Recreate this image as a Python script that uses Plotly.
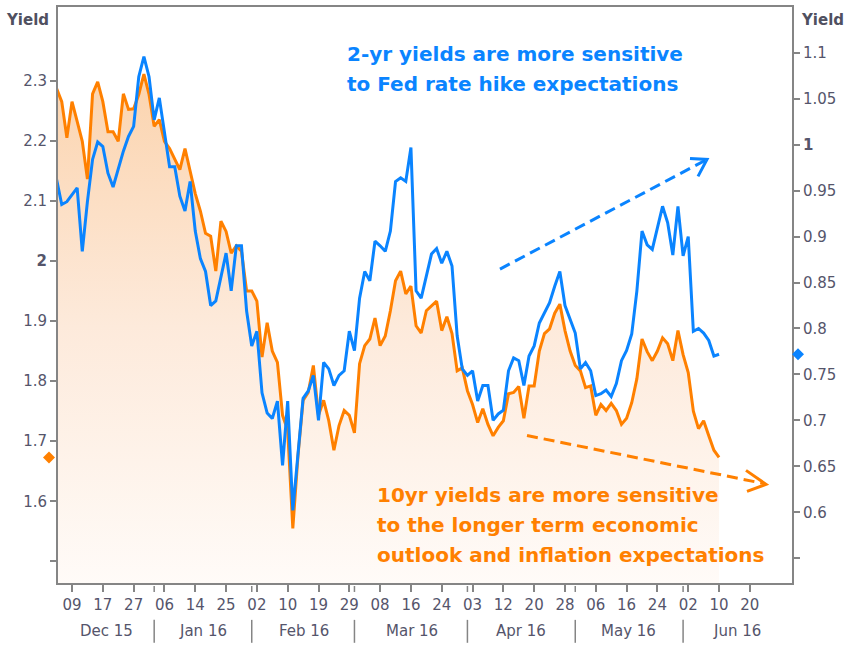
import plotly.graph_objects as go
import pandas as pd

# ---------------- data ----------------
holidays = ["2015-12-25", "2016-01-01", "2016-01-18", "2016-02-15", "2016-03-25", "2016-05-30"]
dates = [d for d in pd.bdate_range("2015-12-04", "2016-06-10") if d.strftime("%Y-%m-%d") not in holidays]

ten_yr_dec = [2.287, 2.265, 2.205, 2.265, 2.232, 2.199, 2.136, 2.278, 2.298, 2.265, 2.215, 2.215, 2.199, 2.278, 2.252, 2.253, 2.277, 2.311, 2.277]
ten_yr_jan = [2.224, 2.235, 2.199, 2.187, 2.169, 2.152, 2.187, 2.149, 2.112, 2.083, 2.046, 2.041, 1.983, 2.066, 2.049, 2.013, 2.025, 2.016, 1.950]
ten_yr_feb = [1.950, 1.933, 1.840, 1.897, 1.850, 1.831, 1.743, 1.718, 1.555, 1.675, 1.768, 1.781, 1.826, 1.743, 1.768, 1.734, 1.685, 1.726, 1.751, 1.743]
ten_yr_mar = [1.714, 1.829, 1.859, 1.870, 1.905, 1.859, 1.875, 1.917, 1.967, 1.983, 1.945, 1.958, 1.892, 1.880, 1.917, 1.925, 1.933, 1.884, 1.907, 1.879, 1.817, 1.822]
ten_yr_apr = [1.784, 1.761, 1.731, 1.754, 1.728, 1.709, 1.723, 1.734, 1.779, 1.781, 1.791, 1.738, 1.792, 1.792, 1.850, 1.879, 1.887, 1.913, 1.928, 1.884, 1.850]
ten_yr_may = [1.826, 1.817, 1.789, 1.792, 1.743, 1.761, 1.751, 1.763, 1.751, 1.728, 1.738, 1.764, 1.804, 1.870, 1.849, 1.834, 1.850, 1.872, 1.862, 1.834, 1.884]
ten_yr_jun = [1.844, 1.814, 1.750, 1.721, 1.734, 1.709, 1.685, 1.673]

two_yr_dec = [0.962, 0.935, 0.938, 0.946, 0.953, 0.884, 0.938, 0.984, 1.003, 0.998, 0.969, 0.954, 0.973, 0.993, 1.009, 1.020, 1.074, 1.096, 1.074]
two_yr_jan = [1.027, 1.051, 1.014, 0.976, 0.976, 0.944, 0.928, 0.960, 0.906, 0.876, 0.862, 0.825, 0.830, 0.857, 0.882, 0.841, 0.890, 0.890, 0.819]
two_yr_feb = [0.781, 0.797, 0.730, 0.708, 0.702, 0.721, 0.651, 0.721, 0.602, 0.667, 0.724, 0.732, 0.749, 0.700, 0.763, 0.756, 0.738, 0.749, 0.754, 0.797]
two_yr_mar = [0.776, 0.833, 0.862, 0.852, 0.895, 0.890, 0.884, 0.906, 0.960, 0.964, 0.960, 0.997, 0.841, 0.833, 0.857, 0.881, 0.887, 0.871, 0.884, 0.868, 0.792, 0.756]
two_yr_apr = [0.749, 0.754, 0.721, 0.738, 0.738, 0.700, 0.707, 0.711, 0.754, 0.768, 0.765, 0.738, 0.770, 0.781, 0.806, 0.817, 0.828, 0.846, 0.862, 0.825, 0.810]
two_yr_may = [0.795, 0.756, 0.763, 0.754, 0.727, 0.729, 0.733, 0.726, 0.740, 0.765, 0.776, 0.794, 0.841, 0.906, 0.891, 0.886, 0.911, 0.933, 0.915, 0.880, 0.933]
two_yr_jun = [0.879, 0.900, 0.797, 0.800, 0.795, 0.787, 0.770, 0.772]

ten_yr = ten_yr_dec + ten_yr_jan + ten_yr_feb + ten_yr_mar + ten_yr_apr + ten_yr_may + ten_yr_jun
two_yr = two_yr_dec + two_yr_jan + two_yr_feb + two_yr_mar + two_yr_apr + two_yr_may + two_yr_jun

day_tick_dates = ["2015-12-09", "2015-12-17", "2015-12-28", "2016-01-06", "2016-01-14", "2016-01-25",
                  "2016-02-02", "2016-02-10", "2016-02-19", "2016-02-29", "2016-03-08", "2016-03-16",
                  "2016-03-24", "2016-04-04", "2016-04-12", "2016-04-20", "2016-04-28", "2016-05-06",
                  "2016-05-16", "2016-05-24", "2016-06-02", "2016-06-10", "2016-06-20"]
day_tick_labels = ["09", "17", "27", "06", "14", "25", "02", "10", "19", "29", "08", "16", "24",
                   "03", "12", "20", "28", "06", "16", "24", "02", "10", "20"]
month_starts = ["2016-01-04", "2016-02-01", "2016-03-01", "2016-04-01", "2016-05-02", "2016-06-01"]
month_labels = ["Dec 15", "Jan 16", "Feb 16", "Mar 16", "Apr 16", "May 16", "Jun 16"]

left_ticks = [1.5, 1.6, 1.7, 1.8, 1.9, 2.0, 2.1, 2.2, 2.3]
left_labels = ["", "1.6", "1.7", "1.8", "1.9", "<b>2</b>", "2.1", "2.2", "2.3"]
right_ticks = [0.55, 0.6, 0.65, 0.7, 0.75, 0.8, 0.85, 0.9, 0.95, 1.0, 1.05, 1.1]
right_labels = ["", "0.6", "0.65", "0.7", "0.75", "0.8", "0.85", "0.9", "0.95", "<b>1</b>", "1.05", "1.1"]

# ---------------- style helpers ----------------
W, H = 848, 645
L, R, T, B = 58, 792, 5, 583
LEFT_RANGE = [1.464, 2.4225]
RIGHT_RANGE = [0.523, 1.1499]
X_RANGE = ["2015-12-04 06:30", "2016-06-30 05:00"]


def px(x):
    return (x - L) / (R - L)


def py(y):
    return (B - y) / (B - T)


ORANGE = "#ff8000"
BLUE = "#0a84ff"
TICKC = "#55556b"
AXC = "#858585"
FONT = "DejaVu Sans"

fig = go.Figure()

fig.add_trace(go.Scatter(
    x=dates, y=ten_yr, mode="lines", yaxis="y",
    line=dict(color=ORANGE, width=3),
    fill="tozeroy",
    fillgradient=dict(type="vertical",
                      colorscale=[[0, "#fffbf8"], [0.5, "#fdeadb"], [1, "#fbd3ad"]],
                      start=1.464, stop=2.32),
    hoverinfo="skip", showlegend=False))

fig.add_trace(go.Scatter(
    x=dates, y=two_yr, mode="lines", yaxis="y2",
    line=dict(color=BLUE, width=3),
    hoverinfo="skip", showlegend=False))

shapes = []
# last-value diamonds just outside the left / right axes (pixel-sized, anchored at the last values)
DIAMOND = "M -6 0 L 0 6 L 6 0 L 0 -6 Z"
shapes.append(dict(type="path", path=DIAMOND, xref="paper", yref="y",
                   xsizemode="pixel", ysizemode="pixel", xanchor=px(49), yanchor=ten_yr[-1],
                   fillcolor=ORANGE, line=dict(width=0), layer="above"))
shapes.append(dict(type="path", path=DIAMOND, xref="paper", yref="y2",
                   xsizemode="pixel", ysizemode="pixel", xanchor=px(798), yanchor=two_yr[-1],
                   fillcolor=BLUE, line=dict(width=0), layer="above"))

# month boundary ticks and separators
for m in month_starts:
    shapes.append(dict(type="line", xref="x", yref="paper", x0=m, x1=m, y0=py(586), y1=py(592),
                       line=dict(color=AXC, width=1.5)))
    shapes.append(dict(type="line", xref="x", yref="paper", x0=m, x1=m, y0=py(620), y1=py(643),
                       line=dict(color=AXC, width=1.5)))

# dashed arrows
shapes.append(dict(type="line", xref="paper", yref="paper", x0=px(500), y0=py(268), x1=px(705), y1=py(159),
                   line=dict(color=BLUE, width=3, dash="11px,6px")))
shapes.append(dict(type="path", xref="paper", yref="paper",
                   path=f"M {px(690)} {py(157)} L {px(707)} {py(158)} L {px(698)} {py(175)}",
                   line=dict(color=BLUE, width=3)))
shapes.append(dict(type="line", xref="paper", yref="paper", x0=px(527), y0=py(435), x1=px(763), y1=py(483),
                   line=dict(color=ORANGE, width=3, dash="11px,6px")))
shapes.append(dict(type="path", xref="paper", yref="paper",
                   path=f"M {px(746)} {py(470)} L {px(766)} {py(484)} L {px(747)} {py(491)}",
                   line=dict(color=ORANGE, width=3)))

annotations = []
month_centers = [106, 203, 304, 412, 521, 628, 737]
for lab, c in zip(month_labels, month_centers):
    annotations.append(dict(text=lab, x=px(c), y=py(631), xref="paper", yref="paper",
                            xanchor="center", yanchor="middle", showarrow=False,
                            font=dict(family=FONT, size=15, color=TICKC)))

annotations.append(dict(text="<b>Yield</b>", x=px(27), y=py(18), xref="paper", yref="paper",
                        xanchor="center", yanchor="middle", showarrow=False,
                        font=dict(family=FONT, size=15, color="#505060")))
annotations.append(dict(text="<b>Yield</b>", x=px(822), y=py(18), xref="paper", yref="paper",
                        xanchor="center", yanchor="middle", showarrow=False,
                        font=dict(family=FONT, size=15, color="#505060")))

ANN_FONT = "DejaVu Sans"
for txt, yy in [("2-yr yields are more sensitive", 52), ("to Fed rate hike expectations", 82)]:
    annotations.append(dict(text=f"<b>{txt}</b>", x=px(345), y=py(yy), xref="paper", yref="paper",
                            xanchor="left", yanchor="middle", showarrow=False,
                            font=dict(family=ANN_FONT, size=20, color=BLUE)))
for txt, yy in [("10yr yields are more sensitive", 495), ("to the longer term economic", 525),
                ("outlook and inflation expectations", 555)]:
    annotations.append(dict(text=f"<b>{txt}</b>", x=px(375), y=py(yy), xref="paper", yref="paper",
                            xanchor="left", yanchor="middle", showarrow=False,
                            font=dict(family=ANN_FONT, size=20, color=ORANGE)))

fig.update_layout(
    width=W, height=H,
    margin=dict(l=L, r=W - R, t=T, b=H - B),
    paper_bgcolor="white", plot_bgcolor="white",
    showlegend=False,
    xaxis=dict(type="date", range=X_RANGE,
               rangebreaks=[dict(bounds=["sat", "mon"]), dict(values=holidays)],
               tickmode="array", tickvals=day_tick_dates, ticktext=day_tick_labels,
               ticks="outside", ticklen=7, tickwidth=1.5, tickcolor=AXC,
               showline=True, linecolor=AXC, linewidth=2, mirror=True,
               showgrid=False, zeroline=False,
               tickfont=dict(family=FONT, size=15, color=TICKC)),
    yaxis=dict(range=LEFT_RANGE, tickmode="array", tickvals=left_ticks, ticktext=left_labels,
               ticks="outside", ticklen=6, tickwidth=1.5, tickcolor=AXC,
               showline=True, linecolor=AXC, linewidth=2,
               showgrid=False, zeroline=False,
               tickfont=dict(family=FONT, size=15, color=TICKC)),
    yaxis2=dict(range=RIGHT_RANGE, overlaying="y", side="right", anchor="x",
                tickmode="array", tickvals=right_ticks, ticktext=right_labels,
                ticks="outside", ticklen=6, tickwidth=1.5, tickcolor=AXC,
                showline=True, linecolor=AXC, linewidth=2,
                showgrid=False, zeroline=False,
                tickfont=dict(family=FONT, size=15, color=TICKC)),
    shapes=shapes,
    annotations=annotations,
)

fig.write_html("out.html", config={"displayModeBar": False},
               post_script="document.body.style.margin='0px';")
